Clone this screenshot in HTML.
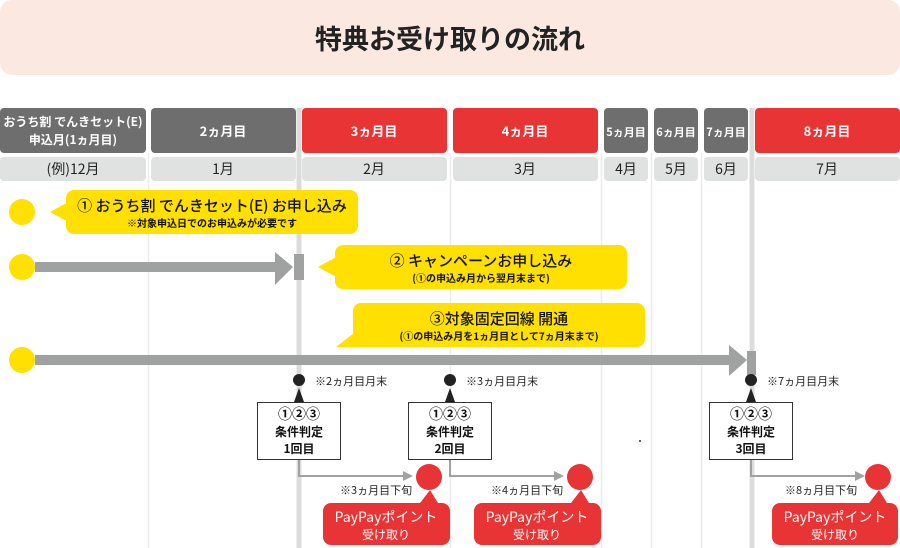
<!DOCTYPE html>
<html><head><meta charset="utf-8"><style>
body{margin:0;background:#fff;}
svg{display:block;font-family:"Liberation Sans","Noto Sans CJK JP",sans-serif;}
</style></head><body>
<svg width="900" height="548" viewBox="0 0 900 548" xmlns="http://www.w3.org/2000/svg">
<rect x="0" y="0" width="900" height="75" rx="12" fill="#fbe8e0"/>
<text x="450" y="49" font-size="27" font-weight="bold" text-anchor="middle" fill="#222" font-family="Noto Sans CJK JP">特典お受け取りの流れ</text>
<g stroke="#ebebeb" stroke-width="1.5">
<line x1="148.5" y1="153" x2="148.5" y2="548"/><line x1="450.5" y1="153" x2="450.5" y2="548"/>
<line x1="601.5" y1="153" x2="601.5" y2="548"/><line x1="651.5" y1="153" x2="651.5" y2="548"/>
<line x1="701.5" y1="153" x2="701.5" y2="548"/>
</g>
<g stroke="#dcdcdc" stroke-width="5"><line x1="299" y1="108" x2="299" y2="548"/><line x1="752" y1="108" x2="752" y2="548"/></g>
<g font-family="Noto Sans CJK JP" font-weight="bold" fill="#fff" text-anchor="middle">
<rect x="0" y="108" width="146" height="45" rx="4" fill="#6e6e6e"/>
<text x="73" y="126" font-size="12">おうち割 でんきセット(E)</text><text x="73" y="144" font-size="12">申込月(1ヵ月目)</text>
<rect x="151" y="108" width="145" height="45" rx="4" fill="#6e6e6e"/><text x="223" y="136" font-size="13">2ヵ月目</text>
<rect x="302" y="108" width="145" height="45" rx="4" fill="#e83434"/><text x="374" y="136" font-size="13">3ヵ月目</text>
<rect x="453" y="108" width="145" height="45" rx="4" fill="#e83434"/><text x="525" y="136" font-size="13">4ヵ月目</text>
<rect x="604" y="108" width="44" height="45" rx="4" fill="#6e6e6e"/><text x="626" y="136" font-size="11">5ヵ月目</text>
<rect x="654" y="108" width="44" height="45" rx="4" fill="#6e6e6e"/><text x="676" y="136" font-size="11">6ヵ月目</text>
<rect x="704" y="108" width="44" height="45" rx="4" fill="#6e6e6e"/><text x="726" y="136" font-size="11">7ヵ月目</text>
<rect x="755" y="108" width="145" height="45" rx="4" fill="#e83434"/><text x="827" y="136" font-size="13">8ヵ月目</text>
</g>
<g font-family="Noto Sans CJK JP" fill="#222" text-anchor="middle" font-size="14">
<rect x="0" y="157" width="146" height="24" rx="4" fill="#e0e1e1"/><text x="73" y="174">(例)12月</text>
<rect x="151" y="157" width="145" height="24" rx="4" fill="#e0e1e1"/><text x="223" y="174">1月</text>
<rect x="302" y="157" width="145" height="24" rx="4" fill="#e0e1e1"/><text x="374" y="174">2月</text>
<rect x="453" y="157" width="145" height="24" rx="4" fill="#e0e1e1"/><text x="525" y="174">3月</text>
<rect x="604" y="157" width="44" height="24" rx="4" fill="#e0e1e1"/><text x="626" y="174">4月</text>
<rect x="654" y="157" width="44" height="24" rx="4" fill="#e0e1e1"/><text x="676" y="174">5月</text>
<rect x="704" y="157" width="44" height="24" rx="4" fill="#e0e1e1"/><text x="726" y="174">6月</text>
<rect x="755" y="157" width="145" height="24" rx="4" fill="#e0e1e1"/><text x="827" y="174">7月</text>
</g>
<g fill="#ffe000"><circle cx="22" cy="212" r="13"/><circle cx="22" cy="267" r="13"/><circle cx="22" cy="360" r="13"/></g>
<g fill="#ffe000">
<rect x="66" y="190" width="292" height="44" rx="8"/><polygon points="50,212 72,200 72,224"/>
<rect x="335" y="245" width="292" height="44" rx="8"/><polygon points="318,267 340,255 340,279"/>
<rect x="353" y="303" width="292" height="44" rx="8"/><polygon points="336,347 358,330 370,347"/>
</g>
<g font-family="Noto Sans CJK JP" fill="#111" text-anchor="middle">
<text x="212" y="211" font-size="15" font-weight="500">① おうち割 でんきセット(E) お申し込み</text>
<text x="212" y="227" font-size="10" font-weight="bold">※対象申込日でのお申込みが必要です</text>
<text x="481" y="266" font-size="15" font-weight="500">② キャンペーンお申し込み</text>
<text x="481" y="282" font-size="10" font-weight="bold">(①の申込み月から翌月末まで)</text>
<text x="499" y="324" font-size="15" font-weight="500">③対象固定回線 開通</text>
<text x="499" y="340" font-size="10" font-weight="bold">(①の申込み月を1ヵ月目として7ヵ月末まで)</text>
</g>
<g fill="#a0a2a2">
<rect x="35" y="262" width="242" height="10"/><polygon points="275,252 293,267 275,285"/>
<rect x="294" y="254" width="10" height="26"/>
<rect x="35" y="355" width="697" height="10"/><polygon points="729,345 747,360 729,376"/>
<rect x="747" y="351" width="9" height="24"/>
</g>
<g font-family="Noto Sans CJK JP">
<g>
<circle cx="299" cy="380" r="6" fill="#222"/><polygon points="299,388 294,402 304,402" fill="#222"/>
<text x="315" y="385" font-size="11" fill="#222">※2ヵ月目月末</text>
<rect x="257.5" y="402.5" width="83" height="57" fill="#fff" stroke="#333"/>
<text x="299" y="419" font-size="14" font-weight="bold" text-anchor="middle" fill="#111">①②③</text>
<text x="299" y="436" font-size="12" font-weight="bold" text-anchor="middle" fill="#111">条件判定</text>
<text x="299" y="453" font-size="12" font-weight="bold" text-anchor="middle" fill="#111">1回目</text>
<polyline points="299,460 299,476 405,476" fill="none" stroke="#a0a2a2" stroke-width="2"/><polygon points="403,471 413,476 403,481" fill="#a0a2a2"/>
<circle cx="429" cy="477" r="13" fill="#e83434"/>
<text x="340" y="494" font-size="11" fill="#222">※3ヵ月目下旬</text>
<rect x="323" y="503" width="127" height="42" rx="8" fill="#e83434"/><polygon points="420,503 430,490 438,503" fill="#e83434"/>
<text x="386" y="522" font-size="14" text-anchor="middle" fill="#fff">PayPayポイント</text>
<text x="386" y="539" font-size="12" text-anchor="middle" fill="#fff">受け取り</text>
</g>
<g transform="translate(151,0)">
<circle cx="299" cy="380" r="6" fill="#222"/><polygon points="299,388 294,402 304,402" fill="#222"/>
<text x="315" y="385" font-size="11" fill="#222">※3ヵ月目月末</text>
<rect x="257.5" y="402.5" width="83" height="57" fill="#fff" stroke="#333"/>
<text x="299" y="419" font-size="14" font-weight="bold" text-anchor="middle" fill="#111">①②③</text>
<text x="299" y="436" font-size="12" font-weight="bold" text-anchor="middle" fill="#111">条件判定</text>
<text x="299" y="453" font-size="12" font-weight="bold" text-anchor="middle" fill="#111">2回目</text>
<polyline points="299,460 299,476 405,476" fill="none" stroke="#a0a2a2" stroke-width="2"/><polygon points="403,471 413,476 403,481" fill="#a0a2a2"/>
<circle cx="429" cy="477" r="13" fill="#e83434"/>
<text x="340" y="494" font-size="11" fill="#222">※4ヵ月目下旬</text>
<rect x="323" y="503" width="127" height="42" rx="8" fill="#e83434"/><polygon points="420,503 430,490 438,503" fill="#e83434"/>
<text x="386" y="522" font-size="14" text-anchor="middle" fill="#fff">PayPayポイント</text>
<text x="386" y="539" font-size="12" text-anchor="middle" fill="#fff">受け取り</text>
</g>
<g transform="translate(452,0)">
<circle cx="299" cy="380" r="6" fill="#222"/><polygon points="299,388 294,402 304,402" fill="#222"/>
<text x="315" y="385" font-size="11" fill="#222">※7ヵ月目月末</text>
<rect x="257.5" y="402.5" width="83" height="57" fill="#fff" stroke="#333"/>
<text x="299" y="419" font-size="14" font-weight="bold" text-anchor="middle" fill="#111">①②③</text>
<text x="299" y="436" font-size="12" font-weight="bold" text-anchor="middle" fill="#111">条件判定</text>
<text x="299" y="453" font-size="12" font-weight="bold" text-anchor="middle" fill="#111">3回目</text>
<polyline points="299,460 299,476 405,476" fill="none" stroke="#a0a2a2" stroke-width="2"/><polygon points="403,471 413,476 403,481" fill="#a0a2a2"/>
<circle cx="426" cy="477" r="13" fill="#e83434"/>
<text x="333" y="494" font-size="11" fill="#222">※8ヵ月目下旬</text>
<rect x="320" y="503" width="126" height="42" rx="8" fill="#e83434"/><polygon points="417,503 427,490 435,503" fill="#e83434"/>
<text x="383" y="522" font-size="14" text-anchor="middle" fill="#fff">PayPayポイント</text>
<text x="383" y="539" font-size="12" text-anchor="middle" fill="#fff">受け取り</text>
</g>
</g>
<circle cx="640" cy="441" r="1" fill="#333"/>
</svg>
</body></html>
